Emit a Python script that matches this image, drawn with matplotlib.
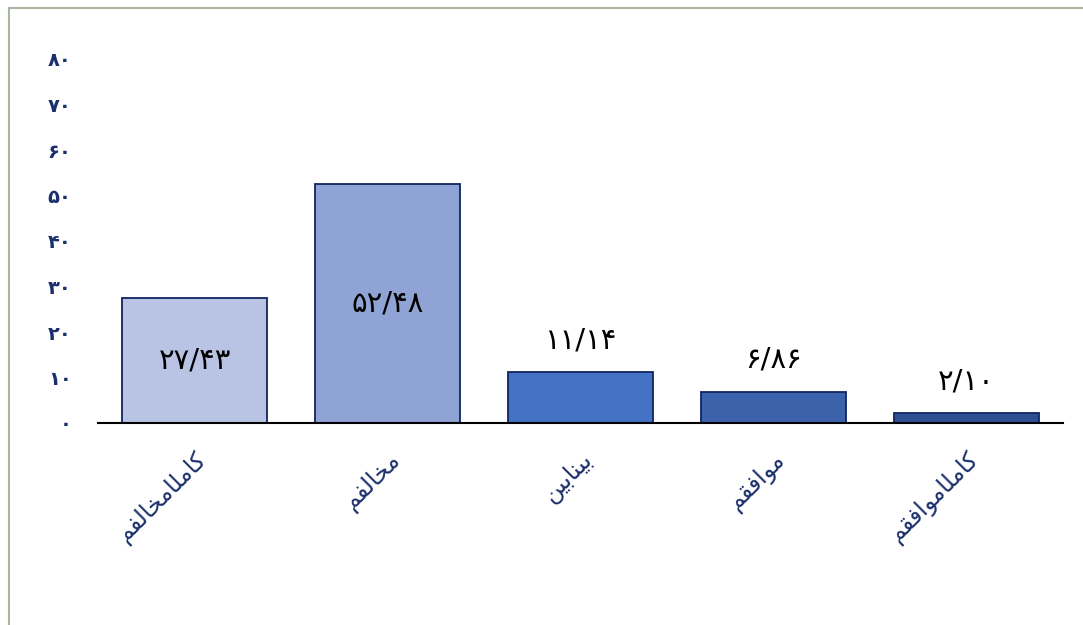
import matplotlib.pyplot as plt
from matplotlib.patches import Rectangle

plt.rcParams['font.family'] = ['DejaVu Sans']

# data
categories = ['کاملامخالفم', 'مخالفم', 'بینابین', 'موافقم', 'کاملاموافقم']
values = [27.43, 52.48, 11.14, 6.86, 2.10]
yticks = [0, 10, 20, 30, 40, 50, 60, 70, 80]
bar_colors = ['#B9C3E3', '#8FA3D4', '#4472C4', '#3B62AB', '#2F4F93']

navy = '#1B2F6B'

# simple shaping for persian text (matplotlib has no rtl shaping)
forms = {
    'ا': (0xFE8D, 0xFE8E, None, None),
    'و': (0xFEED, 0xFEEE, None, None),
    'ب': (0xFE8F, 0xFE90, 0xFE91, 0xFE92),
    'خ': (0xFEA5, 0xFEA6, 0xFEA7, 0xFEA8),
    'ف': (0xFED1, 0xFED2, 0xFED3, 0xFED4),
    'ق': (0xFED5, 0xFED6, 0xFED7, 0xFED8),
    'ل': (0xFEDD, 0xFEDE, 0xFEDF, 0xFEE0),
    'م': (0xFEE1, 0xFEE2, 0xFEE3, 0xFEE4),
    'ن': (0xFEE5, 0xFEE6, 0xFEE7, 0xFEE8),
    'ک': (0xFB8E, 0xFB8F, 0xFB90, 0xFB91),
    'ی': (0xFBFC, 0xFBFD, 0xFBFE, 0xFBFF),
}

def dual(c):
    return c in forms and forms[c][2] is not None

def shape(s):
    out = []
    for i, c in enumerate(s):
        if c not in forms:
            out.append(c)
            continue
        prev = i > 0 and dual(s[i - 1])
        nxt = dual(c) and i < len(s) - 1 and s[i + 1] in forms
        iso, fin, ini, med = forms[c]
        if prev and nxt:
            code = med
        elif prev:
            code = fin
        elif nxt:
            code = ini
        else:
            code = iso
        out.append(chr(code))
    return ''.join(out[::-1])

def fa_num(s):
    return str(s).translate(str.maketrans('0123456789.', '۰۱۲۳۴۵۶۷۸۹/'))

fig = plt.figure(figsize=(10.83, 6.25), dpi=100)
ax = fig.add_axes([98/1083, 1 - 423/625, 965/1083, 364/625])

x = list(range(len(values)))
ax.bar(x, values, width=0.75, color=bar_colors, edgecolor='#0F2560', linewidth=1.3, zorder=2)

for i, v in enumerate(values):
    lab = fa_num(f'{v:.2f}')
    if v > 20:
        ax.text(i, v / 2, lab, ha='center', va='center', fontsize=21, color='black')
    else:
        ax.annotate(lab, (i, v), xytext=(0, 23), textcoords='offset points',
                    ha='center', va='center', fontsize=21, color='black')

ax.set_xlim(-0.5, len(values) - 0.5)
ax.set_ylim(0, 80)
ax.set_yticks(yticks)
ax.set_yticklabels([fa_num(t) for t in yticks], fontsize=14, fontweight='bold', color=navy)
ax.tick_params(axis='y', length=0, pad=19)
ax.set_xticks(x)
ax.set_xticklabels([shape(c) for c in categories], rotation=45, ha='right',
                   rotation_mode='anchor', fontsize=17, color=navy)
ax.tick_params(axis='x', length=0, pad=18)

for side in ['left', 'right', 'top']:
    ax.spines[side].set_visible(False)
ax.spines['bottom'].set_color('black')
ax.spines['bottom'].set_linewidth(1.5)

# chart border
fig.patches.append(Rectangle((9/1083, -0.1), 1.2, 1 - 8/625 + 0.1, transform=fig.transFigure,
                             fill=False, edgecolor='#A8B5A0', linewidth=1.5))

plt.savefig('out.png', dpi=100)
